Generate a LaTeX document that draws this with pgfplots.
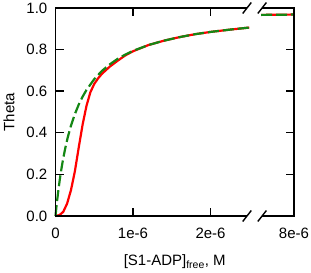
\documentclass[border=0pt]{standalone}
\usepackage{pgfplots}
\usepackage{pgfplotstable}
\pgfplotsset{compat=1.18}
\usepackage{fontspec}
\setmainfont{Liberation Sans}
\definecolor{dgreen}{RGB}{20,135,20}
\definecolor{pred}{RGB}{255,0,0}
\pgfplotstableread{
x th
0 0
0.01 0.037
0.02 0.0714
0.04 0.133
0.06 0.1875
0.08 0.235
0.1 0.278
0.13 0.333
0.16 0.381
0.2 0.435
0.25 0.490
0.3 0.536
0.35 0.574
0.4 0.606
0.5 0.658
0.6 0.698
0.7 0.729
0.8 0.755
0.9 0.776
1.0 0.794
1.2 0.822
1.4 0.843
1.6 0.860
1.8 0.874
2.0 0.885
2.25 0.896
2.5 0.906
}\greenleft
\pgfplotstableread{
x th
0 0
0.05 0.004
0.1 0.02
0.15 0.06
0.2 0.125
0.25 0.215
0.3 0.33
0.35 0.44
0.4 0.53
0.45 0.595
0.5 0.635
0.55 0.662
0.6 0.684
0.7 0.718
0.8 0.746
0.9 0.772
1.0 0.792
1.2 0.822
1.4 0.843
1.6 0.860
1.8 0.874
2.0 0.885
2.25 0.896
2.5 0.906
}\redleft
\pgfplotstableread{
x th
2.652 0.9668
2.777 0.9673
2.877 0.9677
2.977 0.9680
3.077 0.9685
}\rightpart
\begin{document}
\begin{tikzpicture}
\path[use as bounding box] (0,0) rectangle (311pt,273pt);
\begin{axis}[
  scale only axis, width=238.5pt, height=208pt,
  at={(55.5pt,57pt)}, anchor=south west,
  xmin=0, xmax=3.077, ymin=0, ymax=1,
  axis line style={draw=none},
  every tick/.style={draw=none},
  xtick={0,1,2,3.077}, xticklabels={0,1e-6,2e-6,8e-6},
  ytick={0,0.2,0.4,0.6,0.8,1.0},
  yticklabels={0.0,0.2,0.4,0.6,0.8,1.0},
  minor tick num=0,
  tick label style={font=\fontsize{15}{18}\selectfont},
  xticklabel style={anchor=base, yshift=-23pt},
  yticklabel style={anchor=east, inner sep=0pt, xshift=-8pt},
  ylabel={Theta},
  xlabel={[S1-ADP]\textsubscript{free}, M},
  label style={font=\fontsize{15}{18}\selectfont},
  ylabel style={at={(axis description cs:-0.195,0.5)}, anchor=center},
  xlabel style={at={(axis description cs:0.5,0)}, anchor=base, yshift=-50pt},
  clip=false,
]
\addplot[pred, line width=2.2pt, line join=round] table[x=x, y=th] {\redleft};
\addplot[dgreen, line width=2.2pt, dash pattern=on 11pt off 4pt] table[x=x, y=th] {\greenleft};
\addplot[pred, line width=2.2pt] table[x=x, y=th] {\rightpart};
\addplot[dgreen, line width=2.2pt, dash pattern=on 11pt off 4pt] table[x=x, y=th] {\rightpart};
\end{axis}
% frame with axis break
\draw[line width=1.6pt, line join=miter] (247pt,57pt) -- (55.5pt,57pt) -- (55.5pt,265pt) -- (247pt,265pt);
\draw[line width=1.6pt, line join=miter] (262.1pt,265pt) -- (294pt,265pt) -- (294pt,57pt) -- (262.1pt,57pt);
% inward ticks
\foreach \x in {133.0,210.5}{
  \draw[line width=1.4pt] (\x pt,57pt) -- ++(0,8pt);
  \draw[line width=1.4pt] (\x pt,265pt) -- ++(0,-8pt);
}
\foreach \y in {98.6,140.2,181.8,223.4}{
  \draw[line width=1.4pt] (55.5pt,\y pt) -- ++(8pt,0);
  \draw[line width=1.4pt] (294pt,\y pt) -- ++(-8pt,0);
}
% break marks
\foreach \x/\y in {247/57,262.1/57,247/265,262.1/265}{
  \draw[line width=1.4pt] (\x pt-4.3pt,\y pt-5.5pt) -- (\x pt+4.3pt,\y pt+5.5pt);
}
\end{tikzpicture}
\end{document}
